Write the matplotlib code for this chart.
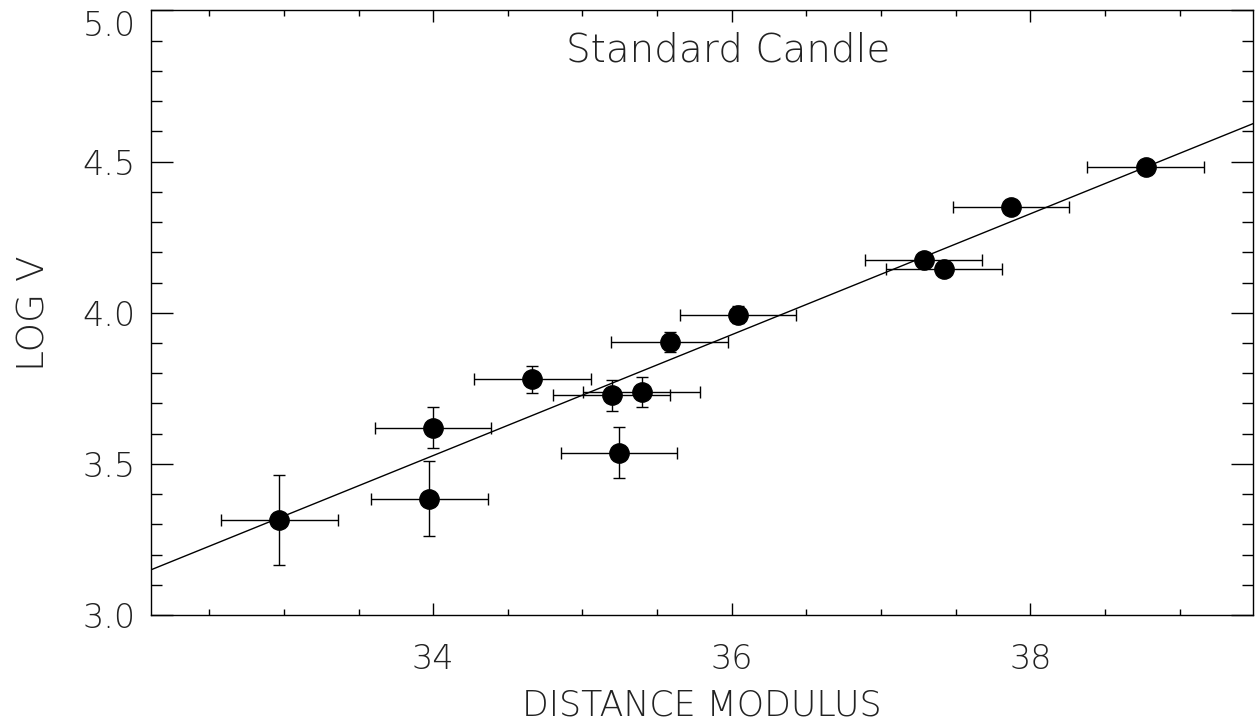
import numpy as np
import matplotlib
matplotlib.use("Agg")
import matplotlib.pyplot as plt
from matplotlib.ticker import MultipleLocator, FormatStrFormatter

# distance modulus and log velocity of the sample
dist_mod = [32.97, 33.975, 33.998, 34.665, 35.195, 35.396, 35.244,
            35.583, 36.042, 37.285, 37.422, 37.871, 38.771]
log_v = [3.313, 3.385, 3.619, 3.780, 3.727, 3.737, 3.537,
         3.903, 3.994, 4.175, 4.144, 4.351, 4.481]
dist_err = [0.39] * 13
logv_err = [0.149, 0.124, 0.068, 0.045, 0.052, 0.050, 0.084,
            0.033, 0.028, 0.010, 0.010, 0.010, 0.010]

# standard candle relation: log V = 0.2 * mu + b
fit_slope = 0.2
fit_intercept = -3.2725

font = dict(family="DejaVu Sans", fontweight="light")

fig = plt.figure(figsize=(12.6, 7.28), dpi=100)
ax = fig.add_axes([0.1198, 0.1552, 0.8746, 0.8304])
ax.set_xlim(32.11, 39.49)
ax.set_ylim(3.0, 5.0)

ax.errorbar(dist_mod, log_v, xerr=dist_err, yerr=logv_err, fmt="o",
            color="black", ecolor="black", elinewidth=1.0, capsize=4.3,
            capthick=1.0, markersize=13.9, zorder=3)

xs = np.array(ax.get_xlim())
ax.plot(xs, fit_slope * xs + fit_intercept, color="black", lw=1.0, zorder=2)

ax.xaxis.set_major_locator(MultipleLocator(2))
ax.xaxis.set_minor_locator(MultipleLocator(0.5))
ax.yaxis.set_major_locator(MultipleLocator(0.5))
ax.yaxis.set_minor_locator(MultipleLocator(0.1))
ax.yaxis.set_major_formatter(FormatStrFormatter("%.1f"))

ax.tick_params(axis="x", which="major", direction="in", length=8.6, width=1,
               top=True, pad=20, labelsize=24, labelcolor="#222222")
ax.tick_params(axis="x", which="minor", direction="in", length=4.3, width=1, top=True)
ax.tick_params(axis="y", which="major", direction="in", length=15.8, width=1,
               right=True, pad=11, labelsize=24, labelcolor="#222222")
ax.tick_params(axis="y", which="minor", direction="in", length=7.9, width=1, right=True)
for sp in ax.spines.values():
    sp.set_linewidth(1.0)

fig.canvas.draw()
for lab in ax.get_xticklabels() + ax.get_yticklabels():
    lab.set_fontweight("light")
    # top label would be cut off at the figure edge
    if lab.get_text() == "5.0":
        lab.set_va("top")

ax.set_xlabel("DISTANCE MODULUS", fontsize=25, labelpad=9, color="#222222", **font)
ax.set_ylabel("LOG V", fontsize=27, labelpad=22, color="#222222", **font)
ax.text(0.377, 0.934, "Standard Candle", transform=ax.transAxes, fontsize=28,
        ha="left", va="center", color="#222222", **font)

fig.savefig("out.png", dpi=100)
